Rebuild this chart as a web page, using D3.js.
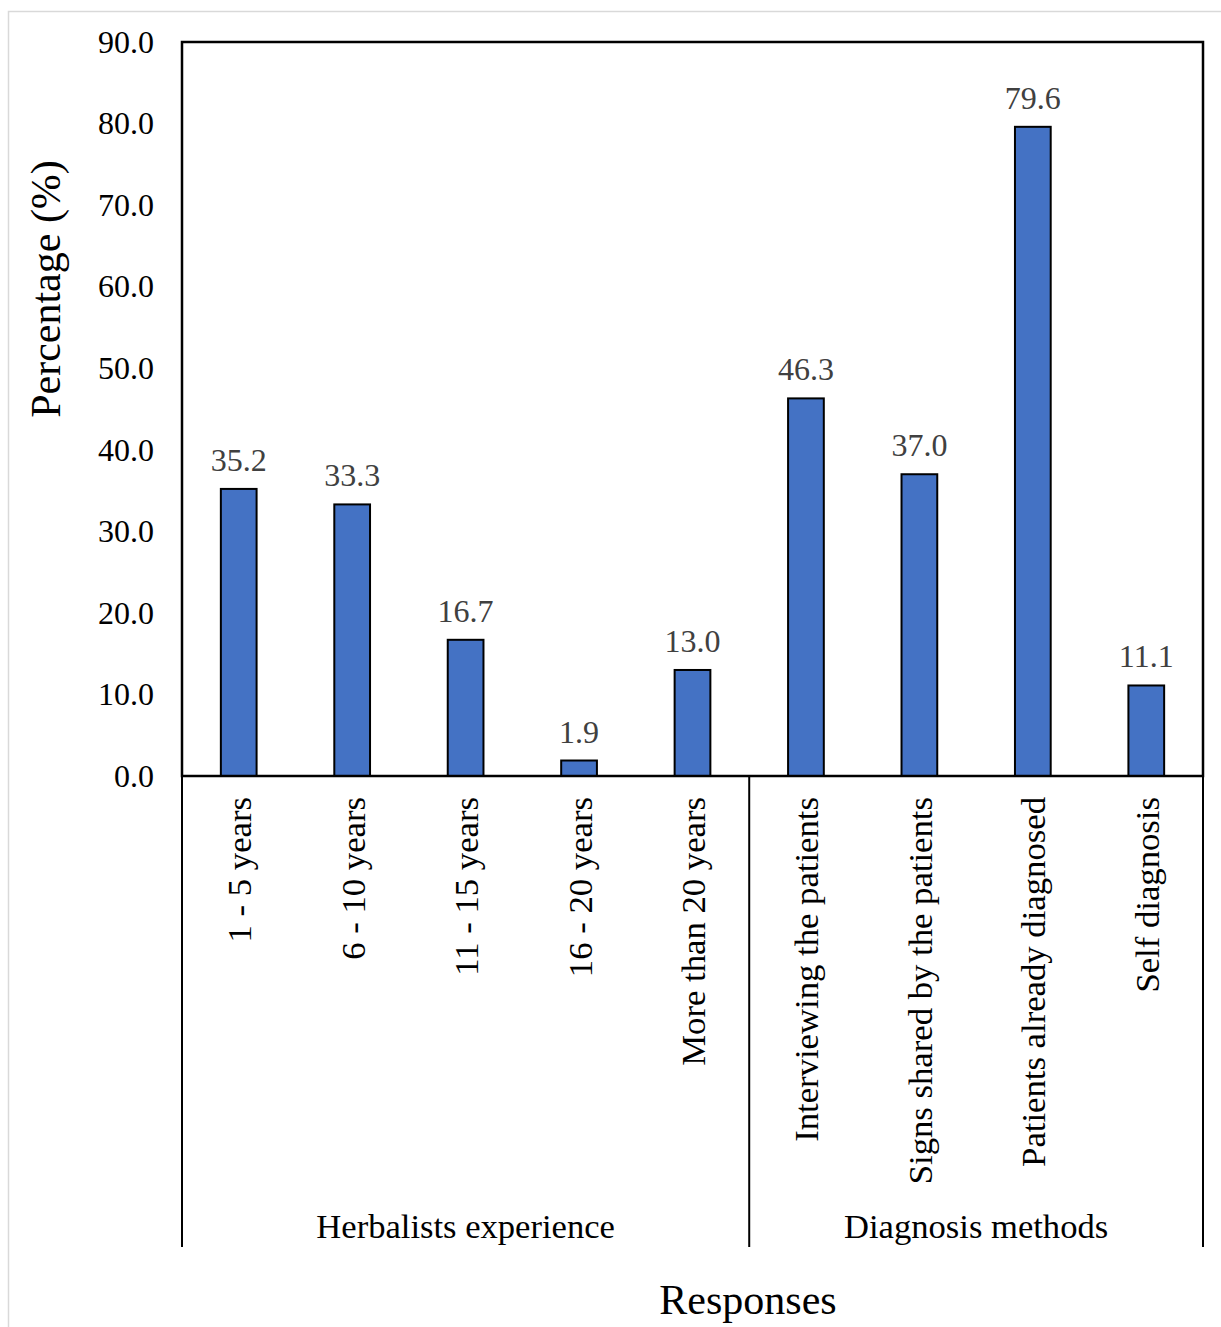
<!DOCTYPE html>
<html>
<head>
<meta charset="utf-8">
<script src="https://cdn.jsdelivr.net/npm/d3@7"></script>
<style>
  html, body { margin: 0; padding: 0; background: #fff; }
  svg { display: block; font-family: "Liberation Serif", "Times New Roman", serif; }
</style>
</head>
<body>
<svg id="chart" width="1221" height="1327"></svg>
<script>
// Survey responses, grouped by question
const categories = [
  "1 - 5 years", "6 - 10 years", "11 - 15 years", "16 - 20 years", "More than 20 years",
  "Interviewing the patients", "Signs shared by the patients", "Patients already diagnosed", "Self diagnosis"
];
const values = [35.2, 33.3, 16.7, 1.9, 13.0, 46.3, 37.0, 79.6, 11.1];
const groups = ["Herbalists experience", "Diagnosis methods"];
const groupSizes = [5, 4];
const yTicks = [0, 10, 20, 30, 40, 50, 60, 70, 80, 90];

const svg = d3.select("#chart");
const W = 1221, H = 1327;
const plot = { left: 182, right: 1203, top: 42, bottom: 776 };

// light outer frame
svg.append("rect")
  .attr("x", 8.5).attr("y", 11.5)
  .attr("width", W + 20).attr("height", H + 20)
  .attr("fill", "#fff").attr("stroke", "#d9d9d9").attr("stroke-width", 1.5);

const x = d3.scaleBand()
  .domain(categories)
  .range([plot.left, plot.right])
  .paddingInner(0.685)
  .paddingOuter(0.3425);

const y = d3.scaleLinear().domain([0, 90]).range([plot.bottom, plot.top]);

// y tick labels
const yAxis = d3.axisLeft(y).tickValues(yTicks).tickFormat(d3.format(".1f")).tickSize(0).tickPadding(28);
const gy = svg.append("g").attr("transform", `translate(${plot.left},0)`).call(yAxis);
gy.select(".domain").remove();
gy.selectAll("text")
  .attr("font-size", 32)
  .attr("fill", "#000")
  .attr("font-family", "Liberation Serif, Times New Roman, serif");

// bars
svg.append("g").selectAll("rect")
  .data(values)
  .join("rect")
  .attr("x", (d, i) => x(categories[i]))
  .attr("y", d => y(d))
  .attr("width", x.bandwidth())
  .attr("height", d => y(0) - y(d))
  .attr("fill", "#4472C4")
  .attr("stroke", "#000")
  .attr("stroke-width", 2);

// value labels
svg.append("g").selectAll("text")
  .data(values)
  .join("text")
  .attr("x", (d, i) => x(categories[i]) + x.bandwidth() / 2)
  .attr("y", d => y(d) - 18)
  .attr("text-anchor", "middle")
  .attr("font-size", 32)
  .attr("fill", "#404040")
  .text(d => d.toFixed(1));

// plot frame
svg.append("rect")
  .attr("x", plot.left).attr("y", plot.top)
  .attr("width", plot.right - plot.left).attr("height", plot.bottom - plot.top)
  .attr("fill", "none").attr("stroke", "#000").attr("stroke-width", 2.5);

// category labels, rotated
svg.append("g").selectAll("text")
  .data(categories)
  .join("text")
  .attr("transform", d => `translate(${x(d) + x.bandwidth() / 2 + 1},797) rotate(-90)`)
  .attr("text-anchor", "end")
  .attr("dominant-baseline", "central")
  .attr("font-size", 34.7)
  .attr("fill", "#000")
  .text(d => d);

// group separators and labels
const sepBottom = 1247;
let start = 0;
const bounds = [0];
groupSizes.forEach(n => { start += n; bounds.push(start); });
const boundaryX = i => i === 0 ? plot.left : (i === categories.length ? plot.right : x(categories[i]) - x.step() * x.paddingInner() / 2);

bounds.forEach(b => {
  const bx = boundaryX(b);
  svg.append("line")
    .attr("x1", bx).attr("x2", bx)
    .attr("y1", plot.bottom).attr("y2", sepBottom)
    .attr("stroke", "#000").attr("stroke-width", 2);
});

groups.forEach((g, i) => {
  const x0 = boundaryX(bounds[i]), x1 = boundaryX(bounds[i + 1]);
  svg.append("text")
    .attr("x", (x0 + x1) / 2)
    .attr("y", 1238)
    .attr("text-anchor", "middle")
    .attr("font-size", 34.6)
    .attr("fill", "#000")
    .text(g);
});

// axis titles
svg.append("text")
  .attr("x", 748).attr("y", 1314)
  .attr("text-anchor", "middle")
  .attr("font-size", 42)
  .attr("fill", "#000")
  .text("Responses");

svg.append("text")
  .attr("transform", "translate(60,289) rotate(-90)")
  .attr("text-anchor", "middle")
  .attr("font-size", 42)
  .attr("fill", "#000")
  .text("Percentage (%)");
</script>
</body>
</html>
